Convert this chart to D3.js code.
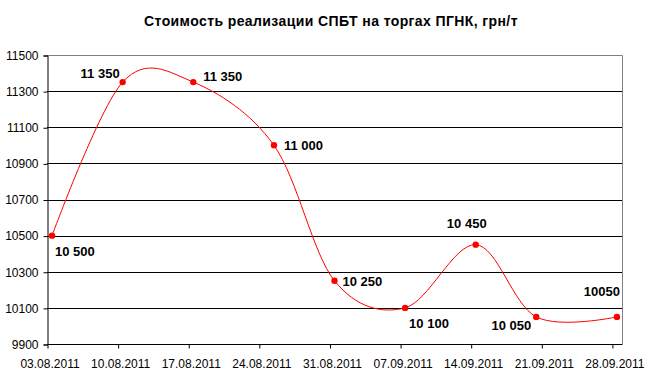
<!DOCTYPE html>
<html><head><meta charset="utf-8">
<script src="https://cdn.jsdelivr.net/npm/d3@7"></script>
<style>
html,body{margin:0;padding:0;background:#fff;}
svg{display:block;font-family:Arial,"Liberation Sans",sans-serif;}
</style></head>
<body>
<svg id="chart" width="655" height="374"></svg>
<script>
const title = "Стоимость реализации СПБТ на торгах ПГНК, грн/т";
const dates = ["03.08.2011","10.08.2011","17.08.2011","25.08.2011","31.08.2011","07.09.2011","14.09.2011","20.09.2011","28.09.2011"];
const values = [10500, 11350, 11350, 11000, 10250, 10100, 10450, 10050, 10050];
const labels = ["10 500","11 350","11 350","11 000","10 250","10 100","10 450","10 050","10050"];
const xTickLabels = ["03.08.2011","10.08.2011","17.08.2011","24.08.2011","31.08.2011","07.09.2011","14.09.2011","21.09.2011","28.09.2011"];
const yTicks = [9900, 10100, 10300, 10500, 10700, 10900, 11100, 11300, 11500];
// label placement: [dx, dy, anchor]
const labelPos = [[3,20,"start"],[-3,-4,"end"],[10,-1,"start"],[10,5,"start"],[8,5,"start"],[4,20,"start"],[-9,-17,"middle"],[-5,13,"end"],[3,-21,"end"]];

const parse = d3.utcParse("%d.%m.%Y");
const svg = d3.select("#chart");
const L = 47, R = 622, T = 55, B = 344;
const x = d3.scaleUtc().domain([parse("03.08.2011"), parse("29.09.2011")]).range([L, R]);
const y = d3.scaleLinear().domain([9900, 11500]).range([B, T]);
const px = d => x(new Date(parse(d).getTime() + 12*3600*1000));

// title
svg.append("text").attr("x", 331).attr("y", 26).attr("text-anchor","middle")
  .style("font-size","14px").style("font-weight","bold").style("letter-spacing","0.4px").text(title);

// gridlines
svg.append("g").selectAll("line").data(yTicks.filter(v => v > 9900 && v < 11500)).join("line")
  .attr("x1", L).attr("x2", R).attr("y1", d => Math.round(y(d)) + 0.5).attr("y2", d => Math.round(y(d)) + 0.5)
  .attr("stroke", "#000").attr("stroke-width", 1);
// plot border (top, right)
svg.append("path").attr("d", `M${L},${T+0.5}H${R+0.5}V${B}`).attr("fill","none").attr("stroke","#808080");

// y axis
const yAxis = d3.axisLeft(y).tickValues(yTicks).tickSize(4).tickPadding(5).tickFormat(d3.format("d"));
const gy = svg.append("g").attr("transform", `translate(${L+0.5},0.5)`).call(yAxis);
gy.select(".domain").attr("stroke","#000");
gy.selectAll("text").style("font-size","12px").attr("fill","#000");

// x axis
const xAxis = d3.axisBottom(x).tickValues(xTickLabels.map(parse)).tickSize(4).tickPadding(11)
  .tickFormat((d,i) => xTickLabels[i]);
const gx = svg.append("g").attr("transform", `translate(0.5,${B+0.5})`).call(xAxis);
gx.select(".domain").attr("stroke","#000").attr("d", `M${L},0H${R}`);
gx.selectAll("text").style("font-size","12px").attr("fill","#000").attr("dx", 2);

// line
const pts = dates.map((d,i) => [px(d), y(values[i])]);
svg.append("path").datum(pts).attr("d", d3.line().curve(d3.curveCardinal.tension(0)))
  .attr("fill","none").attr("stroke","#ff0000").attr("stroke-width",1);
svg.append("g").selectAll("circle").data(pts).join("circle")
  .attr("cx", d => d[0]).attr("cy", d => d[1]).attr("r", 3.2).attr("fill","#ff0000");

// data labels
svg.append("g").selectAll("text").data(pts).join("text")
  .attr("x", (d,i) => d[0] + labelPos[i][0]).attr("y", (d,i) => d[1] + labelPos[i][1])
  .attr("text-anchor", (d,i) => labelPos[i][2])
  .style("font-size","13px").style("font-weight","bold").text((d,i) => labels[i]);
</script>
</body></html>
